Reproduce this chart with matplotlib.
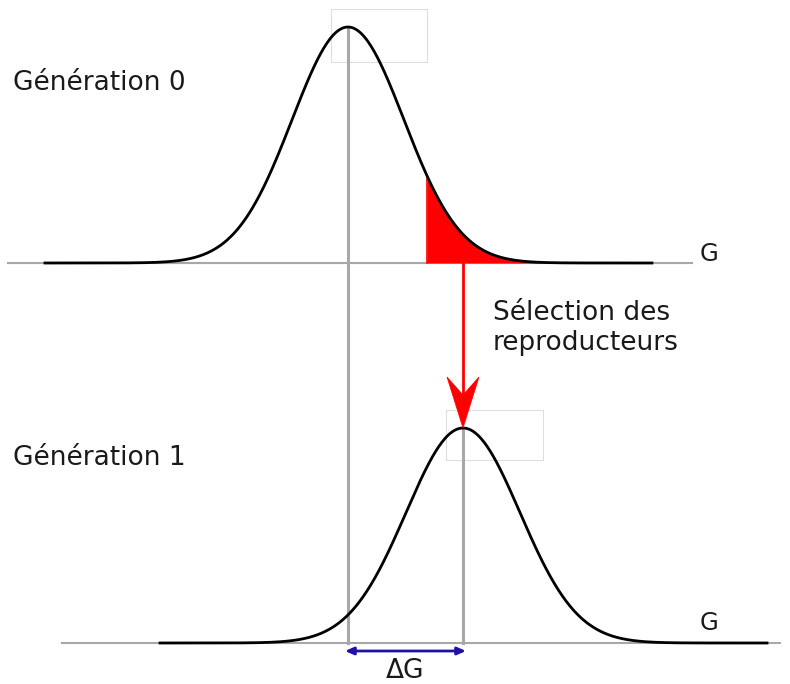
import numpy as np
import matplotlib.pyplot as plt
from matplotlib.patches import Polygon, Rectangle

# données du schéma (en pixels de l'image)
gen_labels = ["Génération 0", "Génération 1"]
means = [348, 463]          # moyenne génétique de chaque génération
sigmas = [56, 57]
heights = [236, 215]
baselines = [263, 643]
curve_span = [(45, 652), (160, 767)]
axis_span = [(8, 692), (62, 780)]
label_pos = [(13, 83), (13, 458)]
g_pos = [(700, 254), (700, 623)]
cut = 427                   # seuil de sélection
sel_text = "Sélection des\nreproducteurs"

gray = "#a8a8a8"
txt = "#1a1a1a"

fig = plt.figure(figsize=(7.9, 6.84), dpi=100)
ax = fig.add_axes([0, 0, 1, 1])
ax.set_xlim(0, 790)
ax.set_ylim(684, 0)
ax.axis("off")

def gauss(x, i):
    return baselines[i] - heights[i] * np.exp(-(x - means[i])**2 / (2 * sigmas[i]**2))

# petits cadres gris clair au sommet des courbes
for i, (w, h) in enumerate([(96, 53), (97, 50)]):
    ax.add_patch(Rectangle((means[i] - 17, baselines[i] - heights[i] - 18), w, h,
                           fill=False, ec="#dedede", lw=0.8, zorder=0))

for i in range(2):
    ax.plot(axis_span[i], [baselines[i]] * 2, color=gray, lw=1.5, zorder=1)
    x = np.linspace(curve_span[i][0], curve_span[i][1], 600)
    ax.plot(x, gauss(x, i), color="black", lw=2, zorder=3)
    ax.text(label_pos[i][0], label_pos[i][1], gen_labels[i], fontsize=19,
            va="center", ha="left", color=txt)
    ax.text(g_pos[i][0], g_pos[i][1], "G", fontsize=17.5, va="center", ha="left", color=txt)

# lignes verticales des moyennes
ax.plot([means[0]] * 2, [baselines[0] - heights[0], baselines[1]], color=gray, lw=2.2, zorder=2)
ax.plot([means[1]] * 2, [baselines[1] - heights[1], baselines[1]], color=gray, lw=2.2, zorder=2)

# queue sélectionnée
xs = np.linspace(cut, curve_span[0][1], 400)
ax.fill_between(xs, baselines[0], gauss(xs, 0), color="red", lw=0, zorder=2)
ax.plot([cut, cut], [baselines[0], gauss(np.array([cut]), 0)[0]], color="red", lw=1.2, zorder=2)

# flèche rouge de sélection
tip = baselines[1] - heights[1]
head_w, head_l, notch = 16, 51, 33
ax.plot([means[1]] * 2, [baselines[0], tip - notch], color="red", lw=2, zorder=4)
ax.add_patch(Polygon([(means[1], tip), (means[1] - head_w, tip - head_l),
                      (means[1], tip - notch), (means[1] + head_w, tip - head_l)],
                     closed=True, fc="red", ec="red", lw=0.5, zorder=5))
ax.text(493, 328, sel_text, fontsize=19, va="center", ha="left", linespacing=1.2, color=txt)

# gain génétique
ax.annotate("", xy=(means[1] + 3, 651), xytext=(means[0] - 3, 651),
            arrowprops=dict(arrowstyle="<|-|>,head_length=0.5,head_width=0.22",
                            color="#2010a8", lw=2, shrinkA=0, shrinkB=0))
ax.text((means[0] + means[1]) / 2, 671, "ΔG", fontsize=19, ha="center", va="center", color=txt)

fig.savefig("out.png", dpi=100)
